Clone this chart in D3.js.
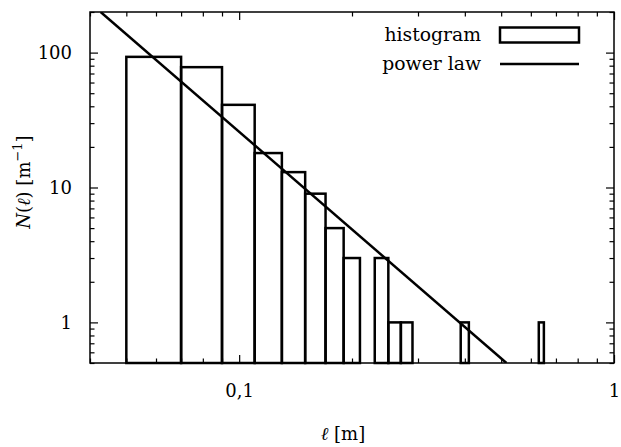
<!DOCTYPE html>
<html>
<head>
<meta charset="utf-8">
<script src="https://cdn.jsdelivr.net/npm/d3@7/dist/d3.min.js"></script>
<style>
  html, body { margin: 0; padding: 0; background: #fff; }
  svg { display: block; }
  svg text { font-family: "DejaVu Serif", "Liberation Serif", serif; fill: #000; }
</style>
</head>
<body>
<svg id="chart" width="621" height="447"></svg>
<script>
// ---- data ----
const binStart = [0.05, 0.07, 0.09, 0.11, 0.13, 0.15, 0.17, 0.19, 0.23, 0.25, 0.27, 0.39, 0.63];
const binEnd   = [0.07, 0.09, 0.11, 0.13, 0.15, 0.17, 0.19, 0.21, 0.25, 0.27, 0.29, 0.41, 0.65];
const counts   = [93, 78, 41, 18, 13, 9, 5, 3, 3, 1, 1, 1, 1];
const powerLawL = [0.0427, 0.5165];
const powerLawN = [200, 0.5];
const xMajorTicks = [0.1, 1];
const xTickLabels = ["0,1", "1"];
const yMajorTicks = [1, 10, 100];
const yTickLabels = ["1", "10", "100"];
const xMinorTicks = [0.04, 0.05, 0.06, 0.07, 0.08, 0.09, 0.2, 0.3, 0.4, 0.5, 0.6, 0.7, 0.8, 0.9];
const yMinorTicks = [0.5, 0.6, 0.7, 0.8, 0.9, 2, 3, 4, 5, 6, 7, 8, 9, 20, 30, 40, 50, 60, 70, 80, 90, 200];

// ---- layout ----
const FONT = '"DejaVu Serif", "Liberation Serif", serif';
const FS = "18px";
const FS_LEG = "18.8px";
const L = 90, R = 614, T = 12, B = 363;
const SW = 2.5;
const svg = d3.select("#chart");
const x = d3.scaleLog().domain([0.04, 1]).range([L, R]);
const y = d3.scaleLog().domain([0.5, 200]).range([B, T]);

const plot = svg.append("g");
svg.append("clipPath").attr("id", "clip").append("rect")
  .attr("x", L).attr("y", T).attr("width", R - L).attr("height", B - T);

// bars
const bars = binStart.map((s, i) => ({ s, e: binEnd[i], v: counts[i] }));
plot.append("g").selectAll("rect").data(bars).join("rect")
  .attr("x", d => x(d.s))
  .attr("y", d => y(d.v))
  .attr("width", d => x(d.e) - x(d.s))
  .attr("height", d => y(0.5) - y(d.v))
  .attr("fill", "none")
  .attr("stroke", "#000")
  .attr("stroke-width", SW);

// power law line
const line = d3.line().x(d => x(d[0])).y(d => y(d[1]));
plot.append("path")
  .datum(powerLawL.map((l, i) => [l, powerLawN[i]]))
  .attr("d", line)
  .attr("clip-path", "url(#clip)")
  .attr("fill", "none")
  .attr("stroke", "#000")
  .attr("stroke-width", SW);

// axes (inward ticks, mirrored)
function styleAxis(g) {
  g.attr("font-family", FONT).attr("font-size", FS);
  g.select(".domain").remove();
  g.selectAll(".tick line").attr("stroke", "#000").attr("stroke-width", 1.2);
  g.selectAll(".tick text").style("font-size", FS).style("font-family", FONT);
}
const majLen = 8, minLen = 4.5;
// bottom
svg.append("g").attr("transform", `translate(0,${B})`)
  .call(d3.axisBottom(x).tickValues(xMajorTicks).tickSize(-majLen).tickPadding(21)
    .tickFormat((d, i) => xTickLabels[i]))
  .call(styleAxis);
svg.append("g").attr("transform", `translate(0,${B})`)
  .call(d3.axisBottom(x).tickValues(xMinorTicks).tickSize(-minLen).tickFormat(""))
  .call(styleAxis);
// top
svg.append("g").attr("transform", `translate(0,${T})`)
  .call(d3.axisTop(x).tickValues(xMajorTicks).tickSize(-majLen).tickFormat(""))
  .call(styleAxis);
svg.append("g").attr("transform", `translate(0,${T})`)
  .call(d3.axisTop(x).tickValues(xMinorTicks).tickSize(-minLen).tickFormat(""))
  .call(styleAxis);
// left
svg.append("g").attr("transform", `translate(${L},0)`)
  .call(d3.axisLeft(y).tickValues(yMajorTicks).tickSize(-majLen).tickPadding(18)
    .tickFormat((d, i) => yTickLabels[i]))
  .call(styleAxis);
svg.append("g").attr("transform", `translate(${L},0)`)
  .call(d3.axisLeft(y).tickValues(yMinorTicks).tickSize(-minLen).tickFormat(""))
  .call(styleAxis);
// right
svg.append("g").attr("transform", `translate(${R},0)`)
  .call(d3.axisRight(y).tickValues(yMajorTicks).tickSize(-majLen).tickFormat(""))
  .call(styleAxis);
svg.append("g").attr("transform", `translate(${R},0)`)
  .call(d3.axisRight(y).tickValues(yMinorTicks).tickSize(-minLen).tickFormat(""))
  .call(styleAxis);

// border
svg.append("rect").attr("x", L).attr("y", T).attr("width", R - L).attr("height", B - T)
  .attr("fill", "none").attr("stroke", "#000").attr("stroke-width", 1.5);

// legend
const lg = svg.append("g").attr("font-family", FONT).attr("font-size", FS_LEG);
lg.append("text").attr("x", 481).attr("y", 41).attr("text-anchor", "end")
  .style("font-family", FONT).style("font-size", FS_LEG).text("histogram");
lg.append("rect").attr("x", 500).attr("y", 27.5).attr("width", 79).attr("height", 15)
  .attr("fill", "none").attr("stroke", "#000").attr("stroke-width", SW);
lg.append("text").attr("x", 481).attr("y", 70).attr("text-anchor", "end")
  .style("font-family", FONT).style("font-size", FS_LEG).text("power law");
lg.append("line").attr("x1", 500).attr("x2", 579).attr("y1", 64).attr("y2", 64)
  .attr("stroke", "#000").attr("stroke-width", SW);

// axis titles
svg.append("text").attr("x", 343).attr("y", 440).attr("text-anchor", "middle")
  .style("font-family", FONT).style("font-size", FS)
  .html('<tspan font-style="italic">ℓ</tspan> [m]');
svg.append("text")
  .attr("transform", "translate(30,182) rotate(-90)")
  .attr("text-anchor", "middle")
  .style("font-family", FONT).style("font-size", FS)
  .html('<tspan font-style="italic">N</tspan>(<tspan font-style="italic">ℓ</tspan>) [m<tspan dy="-8" font-size="13px">−1</tspan><tspan dy="8">]</tspan>');
</script>
</body>
</html>
